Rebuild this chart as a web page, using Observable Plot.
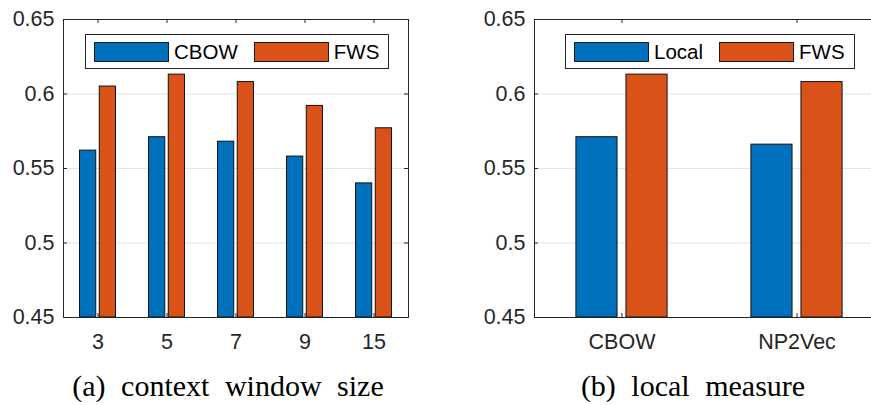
<!DOCTYPE html>
<html>
<head>
<meta charset="utf-8">
<script src="https://cdn.jsdelivr.net/npm/d3@7"></script>
<script src="https://cdn.jsdelivr.net/npm/@observablehq/plot@0.6"></script>
<style>
  html, body { margin: 0; padding: 0; background: #fff; }
  body { width: 871px; height: 405px; overflow: hidden; position: relative; }
  .panel { position: absolute; top: 0; }
  .panel svg { max-width: none !important; }
  .legend { position: absolute; display: flex; align-items: center; box-sizing: border-box;
            border: 1px solid #262626; background: #fff; height: 35px; padding: 0 9px 0 8px;
            font-family: "Liberation Sans", Arial, sans-serif; font-size: 20.5px; color: #000; }
  .legend .item { display: flex; align-items: center; }
  .legend .item + .item { margin-left: 16px; }
  .legend .sw { width: 75px; height: 20px; box-sizing: border-box; border: 1px solid #1a1a1a; margin-right: 5px; }
  .caption { position: absolute; top: 371px; line-height: 30px; font-family: "Liberation Serif", "Times New Roman", serif;
             font-size: 30px; word-spacing: 8px; color: #000; white-space: nowrap; transform: translateX(-50%); }
</style>
</head>
<body>
<div id="panelA" class="panel" style="left:0px; width:435px"></div>
<div id="panelB" class="panel" style="left:436px; width:458px"></div>
<div id="legendA" class="legend" style="left:85px; top:34px"></div>
<div id="legendB" class="legend" style="left:565px; top:34px"></div>
<div class="caption" id="capA" style="left:228px"></div>
<div class="caption" id="capB" style="left:693px"></div>
<script>
// ---- data ----
const windowSizes = ["3", "5", "7", "9", "15"];
const cbowScores = [0.562, 0.571, 0.568, 0.558, 0.540];
const fwsWindowScores = [0.605, 0.613, 0.608, 0.592, 0.577];

const measureModels = ["CBOW", "NP2Vec"];
const localScores = [0.571, 0.566];
const fwsMeasureScores = [0.613, 0.608];

const seriesA = ["CBOW", "FWS"];
const seriesB = ["Local", "FWS"];
const seriesColors = ["#0072BD", "#D95319"];

const yTicks = [0.45, 0.5, 0.55, 0.6, 0.65];
const yTickLabels = ["0.45", "0.5", "0.55", "0.6", "0.65"];

const captionA = "(a) context window size";
const captionB = "(b) local measure";

// ---- drawing ----
const frameColor = "#262626";
const barOffsets = [-0.143, 0.143];
const barWidth = 0.235;
const tickLen = 4;

function panel({categories, seriesValues, width, height, marginLeft, marginRight, marginTop, marginBottom}) {
  const rows = categories.flatMap((c, i) =>
    seriesValues.map((vals, s) => ({pos: i + 1, s, v: vals[i]})));
  const positions = categories.map((c, i) => i + 1);
  const plotW = width - marginLeft - marginRight;
  const plotH = height - marginTop - marginBottom;
  const yMin = yTicks[0];
  const inner = yTicks.slice(1, -1);
  return Plot.plot({
    width, height, marginLeft, marginRight, marginTop, marginBottom,
    style: {fontFamily: "'Liberation Sans', Arial, sans-serif", fontSize: "21.5px", color: frameColor, background: "#fff", overflow: "visible", maxWidth: "none"},
    x: {type: "linear", domain: [0.5, categories.length + 0.5]},
    y: {domain: [yTicks[0], yTicks[yTicks.length - 1]]},
    marks: [
      Plot.gridY(inner, {stroke: "#e3e3e3", strokeOpacity: 1}),
      Plot.rectY(rows, {
        x1: d => d.pos + barOffsets[d.s] - barWidth / 2,
        x2: d => d.pos + barOffsets[d.s] + barWidth / 2,
        y1: yMin, y2: "v",
        fill: d => seriesColors[d.s],
        stroke: "#111", strokeWidth: 1
      }),
      // inward ticks
      Plot.tickY(inner, {y: d => d, insetRight: plotW - tickLen, stroke: frameColor}),
      Plot.tickY(inner, {y: d => d, insetLeft: plotW - tickLen, stroke: frameColor}),
      Plot.tickX(positions, {x: d => d, insetTop: plotH - tickLen, stroke: frameColor}),
      Plot.tickX(positions, {x: d => d, insetBottom: plotH - tickLen, stroke: frameColor}),
      Plot.axisY({ticks: yTicks, tickFormat: d => yTickLabels[yTicks.indexOf(d)], tickSize: 0, tickPadding: 9, label: null}),
      Plot.axisX({ticks: positions, tickFormat: d => categories[d - 1], tickSize: 0, tickPadding: 16, label: null}),
      Plot.frame({stroke: frameColor, strokeWidth: 1})
    ]
  });
}

document.getElementById("panelA").append(panel({
  categories: windowSizes, seriesValues: [cbowScores, fwsWindowScores],
  width: 435, height: 360, marginLeft: 63, marginRight: 27, marginTop: 19, marginBottom: 43
}));
document.getElementById("panelB").append(panel({
  categories: measureModels, seriesValues: [localScores, fwsMeasureScores],
  width: 458, height: 360, marginLeft: 98, marginRight: 10, marginTop: 19, marginBottom: 43
}));

function legend(el, names) {
  names.forEach((n, i) => {
    const item = document.createElement("div");
    item.className = "item";
    const sw = document.createElement("div");
    sw.className = "sw";
    sw.style.background = seriesColors[i];
    const t = document.createElement("span");
    t.textContent = n;
    item.append(sw, t);
    el.append(item);
  });
}
legend(document.getElementById("legendA"), seriesA);
legend(document.getElementById("legendB"), seriesB);
document.getElementById("capA").textContent = captionA;
document.getElementById("capB").textContent = captionB;
</script>
</body>
</html>
